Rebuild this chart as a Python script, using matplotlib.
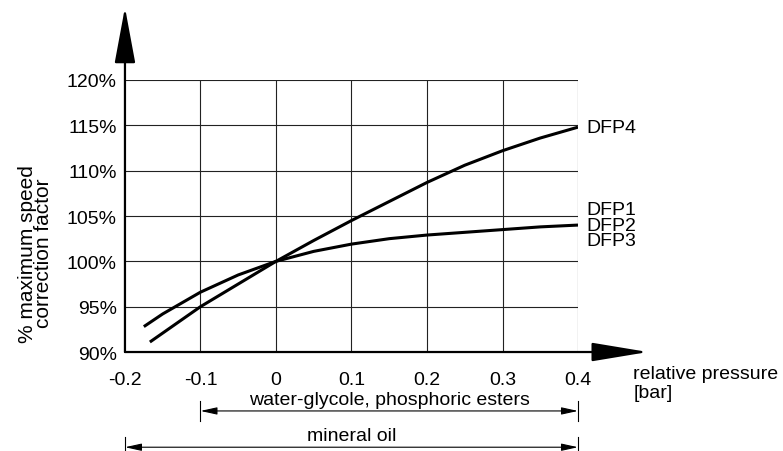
import matplotlib.pyplot as plt

plt.rcParams['font.family'] = ['Liberation Sans', 'DejaVu Sans']

# pressure [bar] and correction factor [%]
p_dfp4 = [-0.167, -0.1, -0.05, 0.0, 0.05, 0.1, 0.15, 0.2, 0.25, 0.3, 0.35, 0.4]
f_dfp4 = [91.1, 95.0, 97.5, 100.0, 102.3, 104.5, 106.6, 108.7, 110.6, 112.2, 113.6, 114.8]

p_dfp123 = [-0.175, -0.15, -0.1, -0.05, 0.0, 0.05, 0.1, 0.15, 0.2, 0.25, 0.3, 0.35, 0.4]
f_dfp123 = [92.8, 94.2, 96.6, 98.5, 100.0, 101.1, 101.9, 102.5, 102.9, 103.2, 103.5, 103.8, 104.0]

xticks = [-0.2, -0.1, 0, 0.1, 0.2, 0.3, 0.4]
xticklabels = ['-0.2', '-0.1', '0', '0.1', '0.2', '0.3', '0.4']
yticks = [90, 95, 100, 105, 110, 115, 120]
yticklabels = ['90%', '95%', '100%', '105%', '110%', '115%', '120%']

FS = 14

fig = plt.figure(figsize=(7.83, 4.52), dpi=100)
ax = fig.add_axes([0.1596, 0.219, 0.5786, 0.6018])
ax.set_xlim(-0.2, 0.4)
ax.set_ylim(90, 120)

# grid
for x in xticks[1:]:
    ax.plot([x, x], [90, 120], color='#222222', lw=0.8, zorder=1)
for y in yticks[1:]:
    ax.plot([-0.2, 0.4], [y, y], color='#222222', lw=0.8, zorder=1)

for s in ax.spines.values():
    s.set_visible(False)

# axes with arrows
ax.annotate('', xy=(-0.2, 128.0), xytext=(-0.2, 90), xycoords='data',
            arrowprops=dict(arrowstyle='-|>,head_length=3.5,head_width=0.65',
                            mutation_scale=10, lw=1.6, color='black',
                            shrinkA=0, shrinkB=0), annotation_clip=False)
ax.annotate('', xy=(0.4927, 90), xytext=(-0.2, 90), xycoords='data',
            arrowprops=dict(arrowstyle='-|>,head_length=3.5,head_width=0.58',
                            mutation_scale=10, lw=1.6, color='black',
                            shrinkA=0, shrinkB=0), annotation_clip=False)

# curves
ax.plot(p_dfp4, f_dfp4, color='black', lw=2.2, solid_capstyle='butt', zorder=3)
ax.plot(p_dfp123, f_dfp123, color='black', lw=2.2, solid_capstyle='butt', zorder=3)

ax.text(0.411, f_dfp4[-1], 'DFP4', fontsize=FS, va='center', ha='left')
ax.text(0.411, 104.0, 'DFP1\nDFP2\nDFP3', fontsize=FS, va='center',
        ha='left', linespacing=0.86)

ax.set_xticks(xticks)
ax.set_xticklabels(xticklabels, fontsize=FS)
ax.set_yticks(yticks)
ax.set_yticklabels(yticklabels, fontsize=FS)
ax.tick_params(axis='x', length=0, pad=14)
ax.tick_params(axis='y', length=0, pad=6)

ax.set_ylabel('% maximum speed\ncorrection factor', fontsize=15, linespacing=0.85)
ax.yaxis.set_label_coords(-0.158, 0.365)
ax.text(0.473, 86.6, 'relative pressure\n[bar]', fontsize=FS, ha='left',
        va='center', linespacing=1.2, clip_on=False)

# fluid ranges
ranges = [('water-glycole, phosphoric esters', -0.1, 0.4, 83.5),
          ('mineral oil', -0.2, 0.4, 79.5)]
for name, x0, x1, yy in ranges:
    ax.annotate('', xy=(x0, yy), xytext=(x1, yy), xycoords='data',
                arrowprops=dict(arrowstyle='<|-|>,head_length=1.0,head_width=0.22',
                                mutation_scale=10, lw=0.8, color='black',
                                shrinkA=0, shrinkB=0), annotation_clip=False)
    ax.plot([x0, x0], [yy - 1.1, yy + 1.1], color='black', lw=0.8, clip_on=False)
    ax.plot([x1, x1], [yy - 1.1, yy + 1.1], color='black', lw=0.8, clip_on=False)
    ax.text((x0 + x1) / 2, yy + 1.25, name, fontsize=FS, ha='center', va='center',
            clip_on=False)

fig.savefig('out.png', dpi=100)
